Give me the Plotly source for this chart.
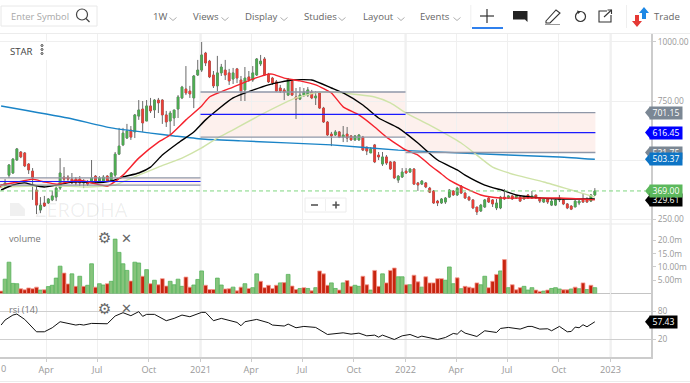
import pandas as pd
import plotly.graph_objects as go

W, H = 690, 383
FONT = "Open Sans"

# ---------- data ----------
first_week = "2020-01-12"
opens = [394,386,436,445,500,534,530,483,453,373, 288,318,318,331,343,381,428,428,419,419,
         419,403,407,411,432,411,411,432,415,436, 525,564,593,627,619,686,716,665,729,712,
         754,754,691,665,678,716,763,801,792,763, 860,881,953,919,860,814,869,881,869,843,
         886,839,797,852,839,860,907,928,864,847, 831,805,797,775,835,767,758,775,775,788,
         763,784,720,661,610,606,619,597,610,602, 585,585,597,555,530,564,521,483,513,492,
         492,415,428,453,449,462,403,398,403,381, 369,326,318,322,343,369,352,390,360,343,
         331,301,284,301,339,331,297,297,343,339, 348,339,343,335,352,339,352,339,322,335,
         309,309,331,331,314,305,301,318,331,331, 326,352]
highs = [398,419,483,508,551,538,534,487,466,394, 343,348,339,369,390,508,470,436,445,428,
         432,419,415,500,436,432,436,436,449,534, 636,636,653,644,695,754,750,754,763,758,
         763,758,708,708,712,775,814,898,814,860, 924,1000,958,924,877,941,907,924,886,890,
         890,856,894,877,898,932,945,936,869,852, 839,818,805,847,843,805,809,805,809,797,
         792,788,725,665,619,627,623,644,640,606, 606,610,602,555,555,568,534,534,521,496,
         496,436,466,466,466,466,407,415,407,386, 373,331,339,343,377,373,386,394,364,348,
         335,301,314,335,343,335,335,348,377,352, 352,352,348,348,356,369,352,343,339,339,
         335,335,352,335,318,309,331,331,356,343, 356,381]
lows = [381,381,424,441,496,508,470,441,331,271, 275,301,314,326,326,373,407,411,398,394,
        390,381,390,407,403,407,407,407,411,428, 521,559,589,585,593,670,619,665,699,678,
        699,653,640,606,644,678,758,775,763,720, 856,873,898,847,805,792,856,839,818,822,
        826,750,750,831,831,856,898,856,826,818, 788,784,754,771,771,674,754,767,767,758,
        733,716,657,602,559,602,593,576,576,581, 581,581,538,521,530,487,500,475,479,458,
        419,403,424,441,445,394,369,394,381,360, 314,305,314,314,339,348,348,356,335,326,
        292,267,280,297,318,301,288,292,331,335, 331,335,322,331,335,335,335,318,318,314,
        305,305,322,309,292,288,301,309,318,318, 322,348]
closes = [386,403,479,504,547,513,475,458,424,309, 309,305,335,348,381,445,419,419,403,403,
          403,407,398,424,411,424,428,411,445,525, 559,614,623,597,691,712,657,729,708,754,
          742,691,661,699,712,767,809,784,780,856, 881,945,911,852,814,869,894,860,835,869,
          847,792,847,839,869,928,919,860,831,826, 792,792,788,843,775,758,775,788,797,763,
          771,720,661,606,602,619,597,606,593,585, 602,606,542,538,547,492,513,513,487,462,
          424,432,449,445,462,398,394,411,386,364, 318,318,335,339,373,352,381,360,339,331,
          297,280,309,331,322,314,318,343,335,348, 335,348,326,343,339,348,339,326,335,322,
          326,331,339,314,297,292,326,326,322,322, 352,369]

volume_m = [0.9,5.4,11.8,3.8,3.7,1.8,1.4,2.1,1.8,2.4, 1.3,1.4,2.6,3.1,5.8,10.3,7.7,3.6,7.4,2.7,
            6.5,2.7,3.1,11.2,2.4,3.7,3.2,3.7,4.6,20.5, 15.5,11.2,8.7,4.7,11.8,11.5,6.5,9.0,3.7,5.0,
            3.3,5.6,2.8,4.6,3.3,5.4,2.7,6.2,2.4,3.2, 5.3,8.5,3.1,1.5,1.5,5.8,3.2,1.7,1.8,2.4,
            1.0,2.4,3.7,1.9,2.2,7.4,4.6,2.2,3.1,1.9, 3.1,4.0,4.1,7.2,2.8,1.5,1.9,2.2,1.9,1.0,
            2.2,8.5,7.4,3.1,4.0,1.9,1.3,4.0,4.9,2.7, 3.1,2.7,6.5,3.3,1.3,8.7,2.7,7.4,4.0,8.7,
            9.6,6.3,6.3,3.3,3.3,6.9,4.4,2.4,6.3,4.0, 4.0,5.6,5.6,5.0,10.0,3.7,5.9,1.8,2.7,2.4,
            2.1,4.0,3.3,6.5,2.2,4.6,7.2,8.5,12.8,2.2, 3.3,1.4,2.2,2.7,1.3,2.2,1.3,0.8,0.9,1.3,
            1.9,2.2,1.7,1.4,1.4,1.7,2.4,1.8,4.0,1.5, 3.1,2.2]
volume_dir = ("rggggrrrrrgrggggrrgr" "grggrggrgggggrggrgrg" "rrrggggrrgggrrrggrrg"
              "rrgrggrrrrrgrgrrgrgr" "grrrggrgrrggrrgrrgrr" "rggrgrrgrrrrrgggrgrr"
              "rrggrrrgrgrrrgggrrgr" "gggrrgrgrgrg")

ma_red_weeks = [0,5,8,11,14,17,20,23,27,28,31,35,40,43,47,51,53,59,64,68,69,72,76,80,84,87,91,95,98,103,106,109,112,114,118,122,127,134,142,151]
ma_red = [394,409,419,407,398,407,415,403,390,398,436,508,576,606,670,729,767,809,843,864,864,847,835,818,784,725,691,640,597,542,521,479,441,415,381,352,339,339,339,331]
ma_black_weeks = [0,3,6,8,11,14,18,21,24,28,31,35,38,41,45,49,52,59,68,74,79,84,87,92,96,101,106,111,116,118,123,128,131,135,142,151]
ma_black = [373,394,403,394,386,394,407,407,403,411,428,445,470,521,572,619,670,763,818,839,839,805,784,733,678,636,572,500,458,436,394,369,352,343,335,335]
ma_pale_weeks = [0,8,15,22,29,32,35,40,46,51,55,58,66,75,81,87,95,99,103,109,117,120,125,131,138,145,150,151]
ma_pale = [386,390,390,386,394,415,436,470,508,551,593,619,691,763,788,784,767,742,699,648,572,534,470,436,407,373,348,343]
ma_blue_weeks = [0,17,28,38,44,51,61,84,101,117,129,142,151]
ma_blue = [729,678,636,614,602,589,581,564,542,530,521,513,503]

rsi_weeks = [0,1,3,4,6,7,9,11,13,15,17,19,20,21,23,25,27,29,31,33,35,36,37,39,42,44,46,48,51,52,54,56,59,60,61,62,65,68,69,72,73,75,77,80,83,87,
             89,91,93,95,96,97,100,102,104,106,107,111,113,115,116,117,118,121,123,126,127,129,132,134,135,137,139,140,142,144,145,146,147,148,149,151]
rsi = [50.4,61.2,72,74.2,62.6,54,35.9,35.9,44.6,57.6,54,50.4,51.8,50.4,54,53.2,53.2,69.9,77.1,70.6,79.3,69.2,73.5,73.5,59.8,64.8,72,68.4,77.8,77.8,59.8,64.8,57.6,56.1,48.9,57.6,62.6,55.4,50.4,48.3,52.5,44.6,47.5,45.3,30.1,33.7,
       30.8,33,27.2,28.7,24.3,28.7,19.3,27.2,30.1,23.6,26.5,19.3,23.6,32.3,30.8,38.8,33,25.8,38.1,34.4,43.1,45.3,41.7,47.5,47.5,41.7,42.4,38.1,47.5,35.9,36.6,46,44.6,51.1,46.7,57.43]

# drawn boxes: start, end, top, middle, bottom
box_starts = ["2020-01-10", "2021-01-01", "2022-01-01"]
box_ends = ["2021-01-01", "2022-01-01", "2022-12-05"]
box_tops = [424, 788, 701.15]
box_mids = [409, 693, 616.45]
box_bottoms = [394, 597, 531.75]

last_price = 369.00
price_ticks = [250, 500, 750, 1000]
price_tick_text = ["250.00", "", "750.00", "1000.00"]
volume_ticks = [5, 10, 15, 20]
volume_tick_text = ["5.00m", "10.00m", "15.0m", "20.0m"]
rsi_ticks = [20, 80]
time_ticks = ["2020-04-01","2020-07-01","2020-10-01","2021-01-01","2021-04-01","2021-07-01","2021-10-01",
              "2022-01-01","2022-04-01","2022-07-01","2022-10-01","2023-01-01"]
time_tick_text = ["Apr","Jul","Oct","2021","Apr","Jul","Oct","2022","Apr","Jul","Oct","2023"]
year_lines = ["2021-01-01", "2022-01-01", "2023-01-01"]
toolbar_items = [("1W",152,173),("Views",192,225),("Display",244,284),("Studies",303,342),("Layout",362,401),("Events",419,457)]
price_tags = [(701.15,"#7b8794"),(616.45,"#0000ff"),(531.75,"#7b8794"),(329.61,"#000000"),(503.37,"#0d74c5"),(369.00,"#5cb85c")]

# ---------- figure ----------
dates = pd.date_range(first_week, periods=len(closes), freq="7D")
def at(weeks):
    return [dates[i] for i in weeks]

PW = 651 / W
def fy(y):
    return 1 - y / H
def fx(x):
    return x / W

GREEN, RED, WICK = "#4caf50", "#ef3e36", "#6a6a6a"
fig = go.Figure()

# wicks, then bodies
fig.add_trace(go.Candlestick(x=dates, open=opens, high=highs, low=lows, close=closes,
    increasing=dict(line=dict(color=WICK, width=1), fillcolor=GREEN),
    decreasing=dict(line=dict(color=WICK, width=1), fillcolor=RED),
    xaxis="x", yaxis="y", hoverinfo="skip", showlegend=False))
fig.add_trace(go.Candlestick(x=dates, open=opens, close=closes,
    high=[max(o, c) for o, c in zip(opens, closes)], low=[min(o, c) for o, c in zip(opens, closes)],
    increasing=dict(line=dict(color=GREEN, width=0.4), fillcolor=GREEN),
    decreasing=dict(line=dict(color=RED, width=0.4), fillcolor=RED),
    xaxis="x", yaxis="y", hoverinfo="skip", showlegend=False))

def ma(weeks, vals, color):
    fig.add_trace(go.Scatter(x=at(weeks), y=vals, mode="lines", xaxis="x", yaxis="y", showlegend=False,
                             line=dict(color=color, width=1.4, shape="spline", smoothing=0.5), hoverinfo="skip"))
ma(ma_blue_weeks, ma_blue, "#1a84c7")
ma(ma_pale_weeks, ma_pale, "#cfe3a8")
ma(ma_black_weeks, ma_black, "#000000")
ma(ma_red_weeks, ma_red, "#f5222d")

fig.add_trace(go.Bar(x=dates, y=volume_m, xaxis="x", yaxis="y2", showlegend=False, hoverinfo="skip",
    marker=dict(color=["#86c47c" if d == "g" else "#c8240f" for d in volume_dir],
                line=dict(color=["#57b45c" if d == "g" else "#f59a90" for d in volume_dir], width=0.8))))
fig.add_trace(go.Scatter(x=at(rsi_weeks), y=rsi, mode="lines", xaxis="x", yaxis="y3", showlegend=False,
                         line=dict(color="#111111", width=1), hoverinfo="skip"))

shapes, anns = [], []

# drawn boxes
for s, e, t, m, b in zip(box_starts, box_ends, box_tops, box_mids, box_bottoms):
    shapes.append(dict(type="rect", xref="x", yref="y", x0=s, x1=e, y0=b, y1=t, fillcolor="#fdf0ed", line_width=0, layer="below"))
    shapes.append(dict(type="line", xref="x", yref="y", x0=s, x1=e, y0=t, y1=t, line=dict(color="#8f97a8", width=1.3)))
    shapes.append(dict(type="line", xref="x", yref="y", x0=s, x1=e, y0=b, y1=b, line=dict(color="#8f97a8", width=1.3)))
    shapes.append(dict(type="line", xref="x", yref="y", x0=s, x1=e, y0=m, y1=m, line=dict(color="#1a1aff", width=1.2)))
for d in year_lines:
    shapes.append(dict(type="line", xref="x", yref="paper", x0=d, x1=d, y0=fy(357), y1=fy(33), line=dict(color="#d4d4d4", width=1.5), layer="below"))

# last-price dashed line
shapes.append(dict(type="line", xref="paper", yref="y", x0=0, x1=fx(645), y0=last_price, y1=last_price,
                   line=dict(color="#7fd77f", width=1, dash="4px,3px")))
# panel separators
shapes.append(dict(type="line", xref="paper", yref="paper", x0=0, x1=PW, y0=fy(224), y1=fy(224), line=dict(color="#e9e9e9", width=1), layer="below"))
shapes.append(dict(type="line", xref="paper", yref="paper", x0=0, x1=PW, y0=fy(293.5), y1=fy(293.5), line=dict(color="#c4c4c4", width=1), layer="below"))

def poly(points, fill=None, line=None, width=1, close=True):
    d = "M " + " L ".join(f"{fx(x):.5f} {fy(y):.5f}" for x, y in points) + (" Z" if close else "")
    shapes.append(dict(type="path", xref="paper", yref="paper", path=d, fillcolor=fill or "rgba(0,0,0,0)",
                       line=dict(color=line or "rgba(0,0,0,0)", width=width)))

def box(x0, y0, x1, y1, fill=None, line=None, width=1):
    shapes.append(dict(type="rect", xref="paper", yref="paper", x0=fx(x0), x1=fx(x1), y0=fy(y1), y1=fy(y0),
                       fillcolor=fill or "rgba(0,0,0,0)", line=dict(color=line or "rgba(0,0,0,0)", width=width)))

def circle(cx, cy, r, line="#444", width=1.2):
    shapes.append(dict(type="circle", xref="paper", yref="paper", x0=fx(cx - r), x1=fx(cx + r), y0=fy(cy + r), y1=fy(cy - r),
                       line=dict(color=line, width=width)))

def txt(x, y, s, size=11, color="#666", anchor="left", family=FONT, **kw):
    anns.append(dict(xref="paper", yref="paper", x=fx(x), y=fy(y), text=s, showarrow=False, xanchor=anchor, yanchor="middle",
                     font=dict(family=family, size=size, color=color), borderpad=0, **kw))

# toolbar
box(0, 33, W, 34, fill="#ececec")
box(1, 6, 97, 26, fill="#ffffff", line="#e8e8e8")
txt(10, 16.5, "Enter Symbol", 9.4, "#a8a8a8")
circle(82, 14.5, 5.5)
poly([(86, 18.5), (89.5, 22)], line="#444", width=1.2, close=False)
for label, lx, cx in toolbar_items:
    txt(lx, 16.5, label, 9.6, "#666")
    poly([(cx - 3.5, 17.5), (cx, 20.5), (cx + 3.5, 17.5)], line="#999", width=0.8, close=False)
box(470.6, 5, 471.2, 28, fill="#e4e4e4")
box(626, 5, 626.6, 28, fill="#e4e4e4")
poly([(480, 16), (494, 16)], line="#333", width=1.2, close=False)
poly([(487, 9), (487, 23)], line="#333", width=1.2, close=False)
box(472, 27, 503, 29, fill="#2f80ed")
poly([(513, 11), (527.5, 11), (527.5, 22), (525, 19.5), (513, 19.5)], fill="#222222")
poly([(546, 21), (556, 10), (560, 13), (550, 23), (546, 23)], line="#333", width=1.1)
poly([(545, 24.5), (560, 24.5)], line="#999", width=1, close=False)
circle(580.5, 16.5, 5, line="#333")
poly([(577, 10.5), (581, 11.5), (578, 14)], fill="#333333")
poly([(607, 11), (599, 11), (599, 22), (611, 22), (611, 15)], line="#333", width=1.1, close=False)
poly([(604, 17), (611.5, 10)], line="#333", width=1.1, close=False)
poly([(607.5, 10), (611.5, 10), (611.5, 14)], line="#333", width=1.1, close=False)
poly([(644, 7), (649, 13), (646, 13), (646, 19), (642, 19), (642, 13), (639, 13)], fill="#1e88e5")
poly([(637, 27), (632, 21), (635, 21), (635, 15), (639, 15), (639, 21), (642, 21)], fill="#e53935")
txt(653, 16.5, "Trade", 9.6, "#666")
box(0, 381, W, 382, fill="#ececec")

# legends and pane labels
box(0, 42, 51, 60, fill="#ffffff")
txt(9, 51, "STAR", 9.6, "#444")
for cy in (45.5, 49.5, 53.5):
    circle(42, cy, 1, line="#444", width=1)
txt(8, 238.5, "volume", 9.2, "#777")
txt(8, 309, "rsi (14)", 9.2, "#777")
for cy in (238.5, 308.5):
    txt(104.5, cy, "\u2699", 15, "#666", anchor="center", family="DejaVu Sans")
    txt(126, cy, "\u2715", 13, "#666", anchor="center", family="DejaVu Sans")

# watermark
poly([(10, 203), (19, 203), (25, 209), (25, 216), (10, 216)], fill="rgba(0,0,0,0.06)")
txt(34, 209.5, "ZERODHA", 20, "rgba(0,0,0,0.07)")

# zoom control
box(305, 198, 346, 212, fill="#ffffff", line="#ececec")
box(325, 199, 325.6, 211, fill="#e6e6e6")
poly([(311, 205), (318, 205)], line="#555", width=1.6, close=False)
poly([(332.5, 205), (339.5, 205)], line="#555", width=1.6, close=False)
poly([(336, 201.5), (336, 208.5)], line="#555", width=1.6, close=False)

# "0" remaining of the clipped 2020 tick label
txt(3, 368, "0", 9.2, "#999", anchor="center")

# price tags
def tag(value, color, yref="y", text=None, right_w=32):
    shapes.append(dict(type="path", xref="paper", yref=yref, xsizemode="pixel", ysizemode="pixel", xanchor=fx(645), yanchor=value,
                       path="M 0 0 L 5 -6 L 5 6 Z", fillcolor=color, line_width=0))
    anns.append(dict(xref="paper", yref=yref, x=fx(649), y=value, text=text or f"{value:.2f}", showarrow=False,
                     xanchor="left", yanchor="middle", width=right_w, height=12, align="center", bgcolor=color,
                     borderpad=0, font=dict(family=FONT, size=8.6, color="#ffffff")))
for v, c in price_tags:
    tag(v, c)
tag(rsi[-1], "#000000", yref="y3", right_w=27)

axis_font = dict(family=FONT, size=9.2, color="#999999")
yaxis_font = dict(family=FONT, size=8.4, color="#999999")
yaxis_common = dict(side="right", anchor="x", showline=True, linecolor="#cccccc", linewidth=2, ticks="outside",
                    ticklen=3, tickcolor="#cccccc", tickfont=yaxis_font, zeroline=False, fixedrange=True)

fig.update_layout(
    width=W, height=H, margin=dict(l=0, r=0, t=0, b=0), autosize=False,
    paper_bgcolor="#ffffff", plot_bgcolor="#ffffff", showlegend=False, bargap=0.04, boxgap=0.35,
    font=dict(family=FONT),
    xaxis=dict(domain=[0, PW], anchor="y3", range=["2020-01-10", "2023-03-14"], type="date", rangeslider=dict(visible=False),
               tickmode="array", tickvals=time_ticks, ticktext=time_tick_text, tickfont=axis_font, showgrid=True,
               gridcolor="#f0f0f0", gridwidth=1, ticks="outside", ticklen=3, tickcolor="#cccccc", showline=True,
               linecolor="#cccccc", linewidth=2, tickangle=0, zeroline=False),
    yaxis=dict(domain=[fy(224), fy(33)], range=[229, 1038], tickmode="array", tickvals=price_ticks, ticktext=price_tick_text,
               showgrid=True, gridcolor="#efefef", **yaxis_common),
    yaxis2=dict(domain=[fy(293.5), fy(224)], range=[0, 26.2], tickmode="array", tickvals=volume_ticks, ticktext=volume_tick_text,
                showgrid=False, **yaxis_common),
    yaxis3=dict(domain=[fy(357), fy(293.5)], range=[-18.5, 118.5], tickmode="array", tickvals=rsi_ticks,
                showgrid=True, gridcolor="#cfcfcf", **yaxis_common),
    shapes=shapes, annotations=anns,
)

fig.write_html("out.html", config=dict(displayModeBar=False),
               post_script=("document.documentElement.style.margin='0';document.documentElement.style.overflow='hidden';"
                            "document.body.style.margin='0';document.body.style.overflow='hidden';"
                            "var g=document.querySelector('.plotly-graph-div');g.style.position='fixed';g.style.left='0';g.style.top='0';"))
